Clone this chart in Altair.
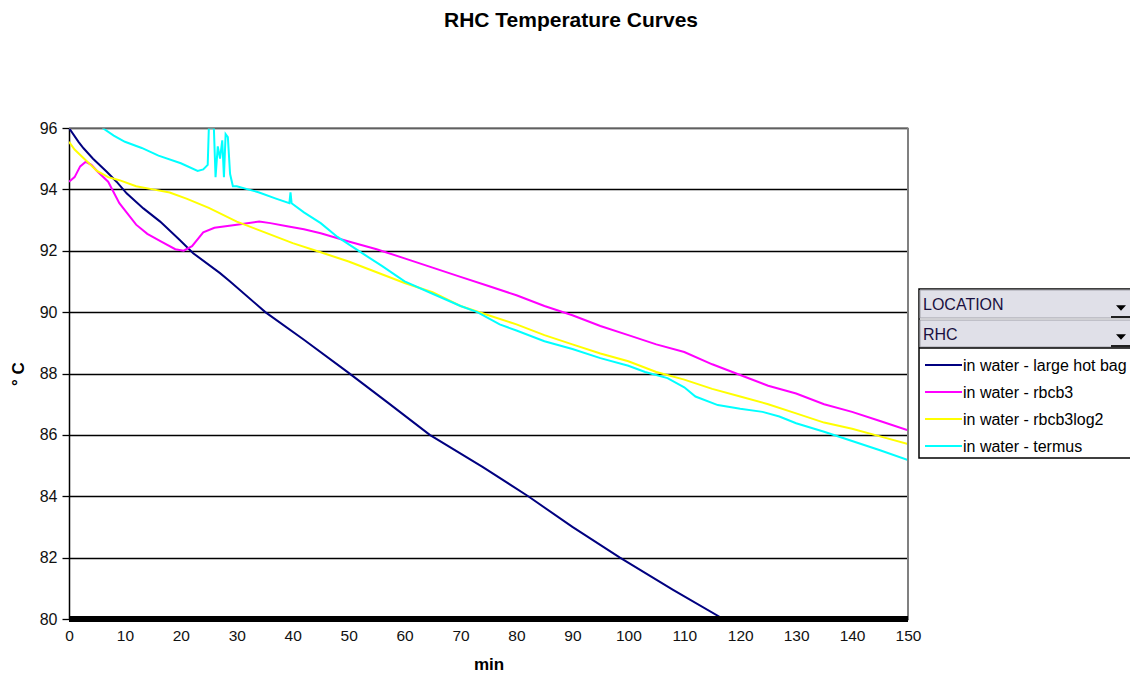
import altair as alt
import pandas as pd

# ---- data ----
series_names = ["in water - large hot bag", "in water - rbcb3",
                "in water - rbcb3log2", "in water - termus"]
series_colors = ["#000080", "#FF00FF", "#FFFF00", "#00FFFF"]

bag_min = [0, 1.7, 2.6, 4.3, 6.7, 8.5, 10.3, 13.3, 16.3, 19.8, 22.2, 27, 28.8,
           35.1, 42, 49.7, 57, 64.5, 74, 82.1, 90, 98.5, 108, 117]
bag_temp = [96.0, 95.55, 95.34, 95.0, 94.58, 94.25, 93.87, 93.38, 92.95, 92.35,
            91.92, 91.27, 91.0, 90.0, 89.1, 88.06, 87.05, 86.0, 84.95,
            84.0, 83.0, 82.0, 80.95, 80.0]

rbcb3_min = [0, 1, 2, 3, 4, 5, 7, 9, 12, 14, 16.5, 19, 20.5, 22, 24, 26, 30, 34,
             36, 39, 42, 45, 50, 55, 60, 65, 70, 75, 80, 85, 90, 95, 100, 105,
             110, 115, 120, 125, 130, 135, 140, 145, 150]
rbcb3_temp = [94.25, 94.4, 94.75, 94.9, 94.8, 94.6, 94.25, 93.55, 92.85, 92.55,
              92.3, 92.05, 92.0, 92.15, 92.6, 92.75, 92.85, 92.95, 92.9, 92.8,
              92.7, 92.57, 92.3, 92.05, 91.75, 91.45, 91.15, 90.85, 90.55, 90.2,
              89.9, 89.55, 89.25, 88.95, 88.7, 88.3, 87.95, 87.6, 87.35, 87.0,
              86.75, 86.45, 86.15]

log2_min = [0, 1, 3, 5, 7, 9, 12, 15, 18, 21, 25, 30, 35, 40, 45, 50, 55, 60, 65,
            70, 75, 80, 85, 90, 95, 100, 105, 110, 115, 120, 125, 130, 135, 140,
            145, 150]
log2_temp = [95.55, 95.3, 94.95, 94.6, 94.4, 94.3, 94.1, 94.0, 93.9, 93.7, 93.4,
             92.95, 92.6, 92.25, 91.95, 91.65, 91.3, 90.95, 90.65, 90.2, 89.9,
             89.6, 89.25, 88.95, 88.65, 88.4, 88.05, 87.8, 87.5, 87.25, 87.0,
             86.7, 86.4, 86.2, 85.95, 85.7]

termus_min = [6, 8, 10, 13, 16, 20, 23, 24, 24.8, 25.0, 25.9, 26.2, 26.6, 27.0,
              27.4, 27.7, 28.0, 28.4, 28.8, 29.3, 30, 32, 34, 37, 39.4, 39.6,
              39.8, 42, 45, 48, 52, 56, 60, 65, 70, 73, 77, 80, 85, 90, 95, 100,
              103, 107, 110, 112, 116, 120, 124, 127, 130, 135, 140, 145, 150]
termus_temp = [96.0, 95.75, 95.55, 95.35, 95.1, 94.85, 94.6, 94.65, 94.8, 96.0,
               96.0, 94.4, 95.4, 95.0, 95.6, 94.4, 95.8, 95.7, 94.5, 94.1, 94.1,
               94.0, 93.9, 93.7, 93.55, 93.9, 93.55, 93.25, 92.9, 92.45, 91.97,
               91.5, 91.0, 90.6, 90.2, 90.0, 89.6, 89.4, 89.05, 88.8, 88.5, 88.25,
               88.05, 87.85, 87.55, 87.25, 86.97, 86.85, 86.75, 86.6, 86.38, 86.1,
               85.8, 85.5, 85.18]

x_ticks = [0, 10, 20, 30, 40, 50, 60, 70, 80, 90, 100, 110, 120, 130, 140, 150]
y_ticks = [80, 82, 84, 86, 88, 90, 92, 94, 96]

filter_field = "LOCATION"
filter_value = "RHC"
chart_title = "RHC Temperature Curves"

# ---- tables ----
frames = []
for name, mins, temps in [(series_names[0], bag_min, bag_temp),
                          (series_names[1], rbcb3_min, rbcb3_temp),
                          (series_names[2], log2_min, log2_temp),
                          (series_names[3], termus_min, termus_temp)]:
    frames.append(pd.DataFrame({"min": mins, "temp": temps, "series": name}))
df = pd.concat(frames, ignore_index=True)
df["order"] = range(len(df))

legend_df = pd.DataFrame({"series": series_names})

FONT = "Liberation Sans"
W, H = 839, 491

color_scale = alt.Scale(domain=series_names, range=series_colors)
xs = alt.Scale(domain=[0, 150], nice=False, zero=False)
ys = alt.Scale(domain=[80, 96], nice=False, zero=False)

lines = alt.Chart(df).mark_line(strokeWidth=2, clip=True).encode(
    x=alt.X("min:Q", scale=xs, title="min",
            axis=alt.Axis(values=x_ticks, grid=False, ticks=False, domain=False,
                          labelFontSize=15.5, labelFont=FONT, labelColor="#111",
                          labelPadding=9, titleFont=FONT, titleFontSize=17,
                          titleFontWeight="bold", titleColor="#000",
                          titleBaseline="middle", titleY=45, labelFlush=False)),
    y=alt.Y("temp:Q", scale=ys, title="° C",
            axis=alt.Axis(values=y_ticks, grid=True, gridColor="#000",
                          gridWidth=1.3, gridOpacity=1, ticks=True, tickSize=7,
                          tickColor="#000", tickWidth=1.3, domain=True,
                          domainColor="#000", domainWidth=1.5,
                          labelFontSize=16, labelFont=FONT, labelColor="#111",
                          labelPadding=5, titleFont=FONT, titleFontSize=17,
                          titleFontWeight="bold", titleColor="#000",
                          titleBaseline="middle", titleX=-51, titleY=H / 2,
                          titleAngle=-90)),
    color=alt.Color("series:N", scale=color_scale, legend=None),
    order="order:Q",
    detail="series:N",
)

frame_df = pd.DataFrame({"x": [0], "x2": [150], "y": [80], "y2": [96]})

bottom_bar = alt.Chart(frame_df).mark_rule(color="#000", strokeWidth=6).encode(
    x=alt.X("x:Q", scale=xs), x2="x2:Q", y=alt.Y("y:Q", scale=ys))
right_border = alt.Chart(frame_df).mark_rule(color="#808080", strokeWidth=2).encode(
    x=alt.X("x2:Q", scale=xs), y=alt.Y("y:Q", scale=ys), y2="y2:Q")
top_border = alt.Chart(frame_df).mark_rule(color="#808080", strokeWidth=1.5).encode(
    x=alt.X("x:Q", scale=xs), x2="x2:Q", y=alt.Y("y2:Q", scale=ys))

# ---- title ----
title = alt.Chart(pd.DataFrame({"t": [chart_title]})).mark_text(
    font=FONT, fontSize=21, fontWeight="bold", color="#000",
    baseline="middle", align="center").encode(
    x=alt.value(502), y=alt.value(-107), text="t:N")

# ---- pivot style legend ----
LX0, LX1 = 850, 1059
box = alt.Chart(pd.DataFrame({"a": [0]})).mark_rect(
    fill="#fff", stroke="#000", strokeWidth=1.5).encode(
    x=alt.value(LX0), x2=alt.value(LX1 + 20), y=alt.value(161), y2=alt.value(330))

btn_layers = []
for txt, y0, y1 in [(filter_field, 162, 190), (filter_value, 192, 219)]:
    btn_layers.append(alt.Chart(pd.DataFrame({"t": [txt]})).mark_rect(
        fill="#e0e0e8", stroke="#a0a0a8", strokeWidth=1).encode(
        x=alt.value(LX0 + 1), x2=alt.value(LX1 + 20), y=alt.value(y0), y2=alt.value(y1)))
    btn_layers.append(alt.Chart(pd.DataFrame({"t": [txt]})).mark_text(
        font=FONT, fontSize=16, color="#1a1040", align="left",
        baseline="middle").encode(
        x=alt.value(LX0 + 4), y=alt.value((y0 + y1) / 2 + 1), text="t:N"))
    btn_layers.append(alt.Chart(pd.DataFrame({"t": [txt]})).mark_rule(
        color="#202020", strokeWidth=2).encode(
        x=alt.value(LX1 - 17), x2=alt.value(LX1 + 20), y=alt.value(y1 - 1)))
    btn_layers.append(alt.Chart(pd.DataFrame({"t": [txt]})).mark_point(
        shape="M-1,-0.55L1,-0.55L0,0.55Z", filled=True, color="#000", size=100,
        opacity=1).encode(
        x=alt.value(LX1 - 7), y=alt.value(y1 - 10)))

sep = alt.Chart(pd.DataFrame({"a": [0]})).mark_rule(color="#000", strokeWidth=1.5).encode(
    x=alt.value(LX0), x2=alt.value(LX1 + 20), y=alt.value(220))

leg_layers = []
for i, name in enumerate(series_names):
    yy = 237 + 27 * i
    base = alt.Chart(legend_df).transform_filter(alt.datum.series == name)
    leg_layers.append(base.mark_rule(strokeWidth=2).encode(
        x=alt.value(LX0 + 6), x2=alt.value(LX0 + 43), y=alt.value(yy),
        color=alt.Color("series:N", scale=color_scale, legend=None)))
    leg_layers.append(base.mark_text(font=FONT, fontSize=16, color="#000",
                                     align="left", baseline="middle").encode(
        x=alt.value(LX0 + 44), y=alt.value(yy + 1), text="series:N"))

chart = alt.layer(
    lines, top_border, right_border, bottom_bar, title, box, *btn_layers, sep,
    *leg_layers
).properties(
    width=W, height=H,
    autosize=alt.AutoSizeParams(type="none"),
    padding={"left": 61, "top": 120, "right": 222, "bottom": 54},
).configure_view(stroke=None).configure(background="#ffffff")

chart.save("out.html", embed_options={"renderer": "svg", "actions": False})
